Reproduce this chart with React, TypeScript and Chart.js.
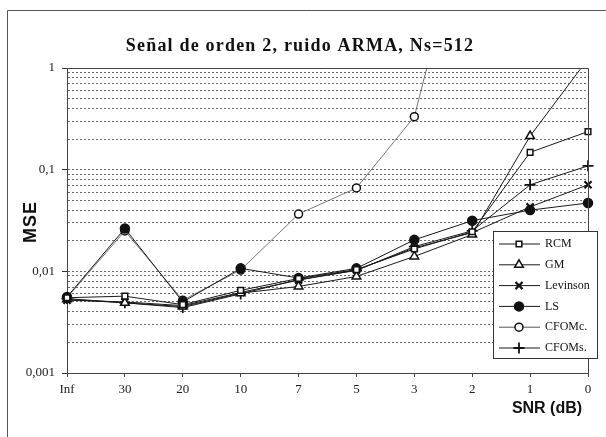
import React, { useEffect, useRef } from 'react';
import { Chart, registerables } from 'chart.js';
import { drawPoint } from 'chart.js/helpers';

Chart.register(...registerables);

// SNR categories (dB)
const snrLabels = ['Inf', '30', '20', '10', '7', '5', '3', '2', '1', '0'];

// MSE per estimator
const rcm = [0.0055, 0.0057, 0.0047, 0.0065, 0.0085, 0.0104, 0.0166, 0.0245, 0.148, 0.237];
const gm = [0.0053, 0.0049, 0.0045, 0.0061, 0.0071, 0.0089, 0.014, 0.023, 0.214, 1.23];
const levinson = [0.0052, 0.005, 0.0046, 0.0062, 0.0082, 0.0103, 0.017, 0.024, 0.043, 0.071];
const ls = [0.0056, 0.0264, 0.005, 0.0107, 0.0086, 0.0107, 0.0204, 0.0315, 0.04, 0.047];
const cfomc = [0.0055, 0.025, 0.0052, 0.0103, 0.0366, 0.066, 0.332, 56, null, null];
const cfoms = [0.0054, 0.0049, 0.0044, 0.006, 0.0083, 0.0102, 0.0175, 0.025, 0.071, 0.109];

const seriesNames = ['RCM', 'GM', 'Levinson', 'LS', 'CFOMc.', 'CFOMs.'];

// Log axis decades and their labels
const yDecades = [0.001, 0.01, 0.1, 1];
const yDecadeLabels = ['0,001', '0,01', '0,1', '1'];

const titleText = 'Señal de orden 2, ruido ARMA, Ns=512';
const yTitle = 'MSE';
const xTitle = 'SNR (dB)';

const SERIF = '"Liberation Serif", "Times New Roman", serif';
const SANS = '"Liberation Sans", Arial, sans-serif';

const isDecade = (v: number) => yDecades.some((d) => Math.abs(v / d - 1) < 1e-6);

const decorations = {
  id: 'decorations',
  beforeDraw(chart: any) {
    const { ctx, width, height } = chart;
    ctx.save();
    ctx.fillStyle = '#ffffff';
    ctx.fillRect(0, 0, width, height);
    // outer chart frame
    ctx.strokeStyle = '#555';
    ctx.lineWidth = 1;
    ctx.beginPath();
    ctx.moveTo(7.5, height);
    ctx.lineTo(7.5, 10.5);
    ctx.lineTo(width, 10.5);
    ctx.stroke();
    ctx.restore();
  },
  afterDraw(chart: any) {
    const { ctx, chartArea } = chart;
    ctx.save();
    // plot area frame (top and right)
    ctx.strokeStyle = '#444';
    ctx.lineWidth = 1;
    ctx.beginPath();
    ctx.moveTo(chartArea.left, chartArea.top + 0.5);
    ctx.lineTo(chartArea.right + 0.5, chartArea.top + 0.5);
    ctx.lineTo(chartArea.right + 0.5, chartArea.bottom);
    ctx.stroke();

    // title
    ctx.fillStyle = '#111';
    ctx.font = `bold 18px ${SERIF}`;
    (ctx as any).letterSpacing = '1.2px';
    ctx.textAlign = 'center';
    ctx.textBaseline = 'alphabetic';
    ctx.fillText(titleText, 300, 51);
    (ctx as any).letterSpacing = '0px';

    // axis titles
    ctx.font = `bold 16px ${SANS}`;
    ctx.textBaseline = 'middle';
    ctx.fillText(xTitle, 547, 409);
    ctx.save();
    ctx.translate(31, 222);
    ctx.rotate(-Math.PI / 2);
    ctx.font = `bold 18px ${SANS}`;
    (ctx as any).letterSpacing = '1px';
    ctx.fillText(yTitle, 0, 0);
    ctx.restore();

    // legend box
    const bx = 493.5, by = 231.5, bw = 104, bh = 127;
    ctx.fillStyle = '#ffffff';
    ctx.fillRect(bx, by, bw, bh);
    ctx.strokeStyle = '#333';
    ctx.strokeRect(bx, by, bw, bh);
    chart.data.datasets.forEach((ds: any, i: number) => {
      const y = 244 + i * 20.8;
      ctx.strokeStyle = ds.borderColor;
      ctx.lineWidth = 1;
      ctx.beginPath();
      ctx.moveTo(499, y);
      ctx.lineTo(540, y);
      ctx.stroke();
      ctx.fillStyle = ds.pointBackgroundColor;
      ctx.strokeStyle = ds.pointBorderColor;
      ctx.lineWidth = ds.pointBorderWidth;
      drawPoint(ctx, { pointStyle: ds.pointStyle, radius: ds.pointRadius, rotation: 0, borderWidth: ds.pointBorderWidth }, 519, y);
      ctx.fillStyle = '#111';
      ctx.font = `12px ${SERIF}`;
      ctx.textAlign = 'left';
      ctx.textBaseline = 'middle';
      ctx.fillText(seriesNames[i], 545, y);
    });
    ctx.restore();
  },
};

function series(label: string, data: (number | null)[], style: any) {
  return {
    label,
    data,
    borderColor: '#1a1a1a',
    borderWidth: 1,
    pointBorderColor: '#111',
    pointBackgroundColor: '#ffffff',
    pointBorderWidth: 1.5,
    pointRadius: 4.5,
    tension: 0,
    ...style,
  };
}

export default function App() {
  const canvasRef = useRef<HTMLCanvasElement | null>(null);

  useEffect(() => {
    if (!canvasRef.current) return;
    const chart = new Chart(canvasRef.current, {
      type: 'line',
      data: {
        labels: snrLabels,
        datasets: [
          series(seriesNames[0], rcm, { pointStyle: 'rect', pointRadius: 4 }),
          series(seriesNames[1], gm, { pointStyle: 'triangle', pointRadius: 5 }),
          series(seriesNames[2], levinson, { pointStyle: 'crossRot', pointRadius: 5, pointBorderWidth: 2.2 }),
          series(seriesNames[3], ls, { pointStyle: 'circle', pointRadius: 4.5, pointBackgroundColor: '#111' }),
          series(seriesNames[4], cfomc, { pointStyle: 'circle', pointRadius: 4, borderColor: '#555', borderWidth: 0.8 }),
          series(seriesNames[5], cfoms, { pointStyle: 'cross', pointRadius: 5.5, pointBorderWidth: 1.8 }),
        ],
      },
      options: {
        animation: false,
        responsive: false,
        events: [],
        layout: { padding: { top: 68, right: 18, left: 0, bottom: 0 } },
        plugins: {
          legend: { display: false },
          title: { display: false },
          tooltip: { enabled: false },
        },
        scales: {
          x: {
            type: 'category',
            offset: false,
            grid: { display: true, drawOnChartArea: false, tickLength: 4, color: '#444' },
            border: { color: '#444', width: 1 },
            ticks: {
              font: { family: SERIF, size: 13 },
              color: '#222',
              padding: 5,
              maxRotation: 0,
              autoSkip: false,
            },
            afterFit: (s: any) => {
              s.height = 64;
            },
          },
          y: {
            type: 'logarithmic',
            min: yDecades[0],
            max: yDecades[yDecades.length - 1],
            afterBuildTicks: (s: any) => {
              const ticks: any[] = [];
              for (let d = 0; d < yDecades.length - 1; d++) {
                for (let m = 1; m < 10; m++) {
                  ticks.push({ value: yDecades[d] * m, major: m === 1 });
                }
              }
              ticks.push({ value: yDecades[yDecades.length - 1], major: true });
              s.ticks = ticks;
            },
            grid: {
              color: (c: any) => (c.tick && c.tick.value > yDecades[0] * 1.0001 ? '#666' : 'transparent'),
              lineWidth: 1,
              tickLength: 5,
              tickColor: (c: any) => (c.tick && isDecade(c.tick.value) ? '#333' : 'transparent'),
            },
            border: { color: '#444', width: 1, dash: [2, 2] },
            ticks: {
              autoSkip: false,
              padding: 7,
              color: '#222',
              font: { family: SERIF, size: 13 },
              callback: (v: any) => {
                const idx = yDecades.findIndex((d) => Math.abs(Number(v) / d - 1) < 1e-6);
                return idx >= 0 ? yDecadeLabels[idx] : '';
              },
            },
            afterFit: (s: any) => {
              s.width = 67;
            },
          },
        },
      },
      plugins: [decorations],
    } as any);
    return () => chart.destroy();
  }, []);

  return (
    <div style={{ position: 'fixed', left: 0, top: 0, width: 606, height: 437, background: '#fff' }}>
      <canvas ref={canvasRef} width={606} height={437} style={{ display: 'block' }} />
    </div>
  );
}
